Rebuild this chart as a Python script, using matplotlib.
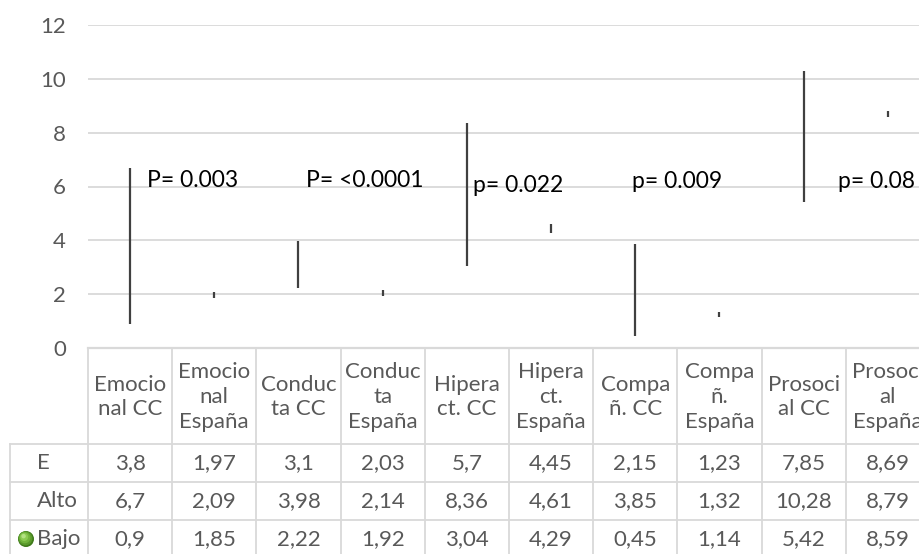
import matplotlib
matplotlib.use("Agg")
import matplotlib.pyplot as plt
from matplotlib import transforms
from matplotlib.lines import Line2D

plt.rcParams['font.family'] = ['Lato', 'DejaVu Sans']

categories = ["Emocio\nnal CC", "Emocio\nnal\nEspaña", "Conduc\nta CC", "Conduc\nta\nEspaña",
              "Hipera\nct. CC", "Hipera\nct.\nEspaña", "Compa\nñ. CC", "Compa\nñ.\nEspaña",
              "Prosoci\nal CC", "Prosoci\nal\nEspaña"]
serie_e = [3.8, 1.97, 3.1, 2.03, 5.7, 4.45, 2.15, 1.23, 7.85, 8.69]
serie_alto = [6.7, 2.09, 3.98, 2.14, 8.36, 4.61, 3.85, 1.32, 10.28, 8.79]
serie_bajo = [0.9, 1.85, 2.22, 1.92, 3.04, 4.29, 0.45, 1.14, 5.42, 8.59]
row_labels = ["E", "Alto", "Bajo"]
p_labels = ["P= 0.003", "P= <0.0001", "p= 0.022", "p= 0.009", "p= 0.08"]
p_x = [0.20, 2.09, 4.07, 5.96, 8.41]
p_y = [5.98, 5.98, 5.80, 5.95, 5.95]
y_ticks = [0, 2, 4, 6, 8, 10, 12]

W, H = 920, 554
FS = 16
fig = plt.figure(figsize=(W / 100, H / 100), dpi=100)
fig.patch.set_facecolor("white")

# plot area in pixels (left, top, right, bottom)
L, T, R, B = 88, 25, 930, 348
ax = fig.add_axes([L / W, (H - B) / H, (R - L) / W, (B - T) / H])
ax.set_xlim(-0.5, len(categories) - 0.5)
ax.set_ylim(0, 12)
ax.set_yticks(y_ticks)
ax.set_xticks([])
ax.tick_params(axis="y", length=0, pad=16, labelsize=FS, labelcolor="#595959")
for s in ax.spines.values():
    s.set_visible(False)
ax.grid(axis="y", color="#d9d9d9", lw=1.3)
ax.set_axisbelow(True)
ax.patch.set_alpha(0)

GRID = "#d9d9d9"
TXT = "#595959"
x = list(range(len(categories)))

# high-low lines
ax.vlines(x, serie_bajo, serie_alto, color="#404040", lw=1.6, zorder=3)

# p-value annotations
for px, py, lab in zip(p_x, p_y, p_labels):
    ax.text(px, py, lab, fontsize=16.5, color="black", ha="left", va="baseline", zorder=4)

# pixel transform (y measured from the top of the figure)
pix = transforms.Affine2D().scale(1 / W, -1 / H).translate(0, 1) + fig.transFigure
xdata_ypix = transforms.blended_transform_factory(ax.transData, pix)

def hline(x0, x1, y, lw=1.3):
    fig.add_artist(Line2D([x0, x1], [y, y], transform=pix, color=GRID, lw=lw))

def vline(xp, y0, y1, lw=1.3):
    fig.add_artist(Line2D([xp, xp], [y0, y1], transform=pix, color=GRID, lw=lw))

# data table
col_w = (R - L) / len(categories)
head_top, head_bot = B, 444
row_h = 38
rows_top = [head_bot + i * row_h for i in range(3)]
table_bottom = head_bot + 3 * row_h

hline(L, W + 20, B, lw=1.6)
hline(10, W + 20, head_bot)
for rt in rows_top[1:]:
    hline(10, W + 20, rt)
for i in range(len(categories) + 1):
    vline(L + i * col_w, head_top, table_bottom)
vline(10, head_bot, table_bottom)

for i, cat in enumerate(categories):
    ax.text(i, (head_top + head_bot) / 2 + 1, cat, transform=xdata_ypix, ha="center",
            va="center", fontsize=FS, color=TXT, linespacing=1.3, clip_on=False)

def fmt(v):
    return f"{v:g}".replace(".", ",")

for r, vals in enumerate([serie_e, serie_alto, serie_bajo]):
    yc = rows_top[r] + row_h / 2
    fig.text(37 / W, 1 - yc / H, row_labels[r], ha="left", va="center",
             fontsize=FS, color=TXT)
    for i, v in enumerate(vals):
        ax.text(i, yc, fmt(v), transform=xdata_ypix, ha="center", va="center",
                fontsize=FS, color=TXT, clip_on=False)

# legend key for Bajo: shaded green sphere
cx, cy = 26, rows_top[2] + row_h / 2
shades = [("#3f7a1a", 8.0, 0, 0), ("#5a9a2c", 7.0, -0.6, -0.6), ("#72b43c", 5.6, -1.2, -1.3),
          ("#8ccb52", 4.0, -1.8, -2.0), ("#b3e283", 2.2, -2.4, -2.8)]
for col, rad, dx, dy in shades:
    fig.add_artist(matplotlib.patches.Circle((cx + dx, cy + dy), rad, transform=pix,
                                             facecolor=col, edgecolor="none"))

fig.savefig("out.png", dpi=100, facecolor="white")
